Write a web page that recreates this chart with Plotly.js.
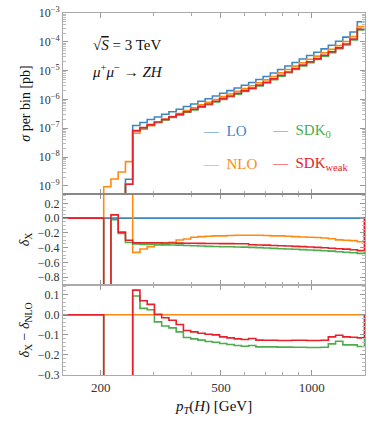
<html lang="en">
  <head>
    <meta charset="UTF-8" />
    <script src="https://cdn.plot.ly/plotly-3.0.1.min.js"></script>
    <title>ZH pT(H)</title>
    <style>
      body { margin: 0; background: #fff; }
    </style>
  </head>
  <body>
    <div id="chart" style="width: 381px; height: 428px"></div>
    <script>
      // bin edges in pT(H) [GeV]
      const binEdges = [204.6, 216.2, 228.5, 241.5, 255.2, 269.7, 285.0, 301.2, 318.3, 336.4,
        355.5, 375.7, 397.0, 419.6, 443.4, 468.6, 495.2, 523.3, 553.1, 584.5, 617.7, 652.8,
        689.8, 729.0, 770.4, 814.2, 860.4, 909.3, 960.9, 1015.5, 1073.2, 1134.1, 1198.5,
        1266.6, 1338.5, 1414.6, 1495.0];

      // sigma per bin [pb]
      const loTop = [1e-11, 1e-11, 1e-11, 1.7e-9, 1.25e-7, 1.59e-7, 2.02e-7, 2.47e-7, 3.06e-7,
        3.77e-7, 4.6e-7, 5.71e-7, 6.97e-7, 8.64e-7, 1.06e-6, 1.32e-6, 1.64e-6, 2.02e-6, 2.5e-6,
        3.11e-6, 3.88e-6, 4.93e-6, 6.27e-6, 8.29e-6, 1.1e-5, 1.45e-5, 1.92e-5, 2.54e-5, 3.35e-5,
        4.33e-5, 5.7e-5, 7.6e-5, 1.05e-4, 1.45e-4, 2.2e-4, 4.95e-4];
      const nloTop = [9.4e-10, 1.75e-9, 3.05e-9, 6.95e-9, 6.7e-8, 9.25e-8, 1.24e-7, 1.58e-7,
        2.03e-7, 2.53e-7, 3.24e-7, 4.1e-7, 5.16e-7, 6.47e-7, 8.0e-7, 1.0e-6, 1.25e-6, 1.55e-6,
        1.92e-6, 2.39e-6, 2.98e-6, 3.79e-6, 4.8e-6, 6.3e-6, 8.36e-6, 1.09e-5, 1.44e-5, 1.89e-5,
        2.48e-5, 3.2e-5, 4.16e-5, 5.47e-5, 7.4e-5, 1.02e-4, 1.53e-4, 3.37e-4];
      const sdk0Top = [1e-11, 1e-11, 1e-11, 1.14e-9, 8.1e-8, 1.03e-7, 1.3e-7, 1.58e-7, 1.95e-7,
        2.4e-7, 2.92e-7, 3.6e-7, 4.36e-7, 5.37e-7, 6.55e-7, 8.12e-7, 1.005e-6, 1.236e-6,
        1.525e-6, 1.89e-6, 2.34e-6, 2.96e-6, 3.73e-6, 4.89e-6, 6.45e-6, 8.44e-6, 1.11e-5,
        1.455e-5, 1.9e-5, 2.44e-5, 3.18e-5, 4.2e-5, 5.72e-5, 7.8e-5, 1.17e-4, 2.59e-4];
      const sdkWeakTop = [1e-11, 1e-11, 1e-11, 1.14e-9, 8.31e-8, 1.057e-7, 1.343e-7, 1.643e-7,
        2.03e-7, 2.5e-7, 3.05e-7, 3.77e-7, 4.6e-7, 5.69e-7, 6.96e-7, 8.66e-7, 1.074e-6,
        1.323e-6, 1.635e-6, 2.03e-6, 2.48e-6, 3.14e-6, 3.98e-6, 5.22e-6, 6.89e-6, 9.02e-6,
        1.187e-5, 1.56e-5, 2.04e-5, 2.62e-5, 3.41e-5, 4.51e-5, 6.15e-5, 8.41e-5, 1.26e-4, 2.77e-4];

      // delta_X (relative to LO); off-scale bins kept outside the axis range
      const deltaLO = [0, 0, 0, 0, 0, 0, 0, 0, 0, 0, 0, 0, 0, 0, 0, 0, 0, 0, 0, 0, 0, 0, 0, 0,
        0, 0, 0, 0, 0, 0, 0, 0, 0, 0, 0, 0];
      const deltaNLO = [2, 2, 2, 2, -0.464, -0.418, -0.387, -0.36, -0.337, -0.328, -0.296,
        -0.282, -0.26, -0.251, -0.245, -0.24, -0.24, -0.235, -0.232, -0.232, -0.232, -0.232,
        -0.235, -0.24, -0.24, -0.245, -0.25, -0.255, -0.26, -0.262, -0.27, -0.28, -0.295, -0.3,
        -0.305, -0.32];
      const deltaSDK0 = [-1, -0.02, -0.206, -0.33, -0.35, -0.355, -0.358, -0.36, -0.362, -0.364,
        -0.366, -0.37, -0.375, -0.378, -0.382, -0.385, -0.387, -0.388, -0.39, -0.392, -0.396,
        -0.4, -0.405, -0.41, -0.414, -0.418, -0.422, -0.427, -0.432, -0.437, -0.442, -0.447,
        -0.455, -0.462, -0.468, -0.477];
      const deltaSDKweak = [-1, 0.043, -0.19, -0.3, -0.335, -0.335, -0.335, -0.335, -0.336,
        -0.336, -0.338, -0.34, -0.34, -0.342, -0.343, -0.344, -0.345, -0.345, -0.346, -0.346,
        -0.36, -0.363, -0.366, -0.37, -0.374, -0.378, -0.382, -0.386, -0.39, -0.396, -0.402,
        -0.407, -0.414, -0.42, -0.428, -0.44];

      // delta_X - delta_NLO
      const diffNLO = [0, 0, 0, 0, 0, 0, 0, 0, 0, 0, 0, 0, 0, 0, 0, 0, 0, 0, 0, 0, 0, 0, 0, 0,
        0, 0, 0, 0, 0, 0, 0, 0, 0, 0, 0, 0];
      const diffSDK0 = [-1, -1, -1, -1, 0.094, 0.032, 0.025, -0.035, -0.056, -0.065, -0.085,
        -0.113, -0.12, -0.126, -0.133, -0.137, -0.143, -0.148, -0.153, -0.157, -0.153, -0.16,
        -0.16, -0.16, -0.161, -0.161, -0.162, -0.162, -0.163, -0.163, -0.162, -0.145, -0.132,
        -0.15, -0.15, -0.158];
      const diffSDKweak = [-1, -1, -1, -1, 0.123, 0.07, 0.052, 0.002, -0.015, -0.027, -0.048,
        -0.078, -0.085, -0.092, -0.097, -0.1, -0.11, -0.115, -0.12, -0.123, -0.118, -0.126,
        -0.127, -0.127, -0.128, -0.128, -0.127, -0.127, -0.128, -0.128, -0.127, -0.11, -0.102,
        -0.11, -0.112, -0.115];

      const colors = { lo: "#3d86c6", nlo: "#ff8a12", sdk0: "#4cad4a", weak: "#e8202a" };
      const serif = "'Liberation Serif', 'DejaVu Serif', serif";

      // histogram outline: value before the first bin, the bins, value after the last
      function steps(vals, before, after) {
        const x = [100], y = [before];
        vals.forEach((v, i) => { x.push(binEdges[i]); y.push(v); });
        x.push(binEdges[vals.length]);
        y.push(after === undefined ? vals[vals.length - 1] : after);
        if (after !== undefined) { x.push(2000); y.push(after); }
        return { x, y };
      }

      function trace(vals, before, after, color, xa, ya) {
        const s = steps(vals, before, after);
        return {
          x: s.x, y: s.y, xaxis: xa, yaxis: ya,
          type: "scatter", mode: "lines",
          line: { shape: "hv", color: color, width: 1.6 },
          hoverinfo: "skip", showlegend: false,
        };
      }

      const data = [
        trace(loTop, 1e-12, undefined, colors.lo, "x", "y"),
        trace(nloTop, 1e-12, undefined, colors.nlo, "x", "y"),
        trace(sdk0Top, 1e-12, undefined, colors.sdk0, "x", "y"),
        trace(sdkWeakTop, 1e-12, undefined, colors.weak, "x", "y"),
        trace(deltaLO, 0, 0, colors.lo, "x2", "y2"),
        trace(deltaNLO, 0, 0, colors.nlo, "x2", "y2"),
        trace(deltaSDK0, 0, 0, colors.sdk0, "x2", "y2"),
        trace(deltaSDKweak, 0, 0, colors.weak, "x2", "y2"),
        trace(diffNLO, 0, 0, colors.nlo, "x3", "y3"),
        trace(diffSDK0, 0, 0, colors.sdk0, "x3", "y3"),
        trace(diffSDKweak, 0, 0, colors.weak, "x3", "y3"),
      ];

      const xBase = {
        type: "log",
        range: [Math.log10(150), Math.log10(1500)],
        tickvals: [200, 500, 1000],
        ticktext: ["200", "500", "1000"],
        ticks: "inside", ticklen: 5, tickcolor: "#999",
        minor: { tickvals: [300, 400, 600, 700, 800, 900], ticks: "inside", ticklen: 3, tickcolor: "#aaa" },
        showline: true, linecolor: "#aaa", mirror: "ticks",
        showgrid: false, zeroline: false,
        tickfont: { family: serif, size: 13, color: "#333" },
      };
      const yBase = {
        ticks: "inside", ticklen: 5, tickcolor: "#999",
        showline: true, linecolor: "#aaa", mirror: "ticks",
        showgrid: false, zeroline: false,
        tickfont: { family: serif, size: 12, color: "#333" },
        title: { font: { family: serif, size: 14, color: "#111" }, standoff: 4 },
      };

      const decades = [1e-9, 1e-8, 1e-7, 1e-6, 1e-5, 1e-4, 1e-3];
      const minorLog = [];
      decades.slice(0, -1).forEach((d) => { for (let m = 2; m < 10; m++) minorLog.push(m * d); });

      const layout = {
        width: 381, height: 428,
        margin: { l: 63, r: 16, t: 13, b: 53 },
        paper_bgcolor: "#fff", plot_bgcolor: "#fff",
        showlegend: false,
        xaxis: Object.assign({}, xBase, { anchor: "y", showticklabels: false }),
        xaxis2: Object.assign({}, xBase, { anchor: "y2", showticklabels: false }),
        xaxis3: Object.assign({}, xBase, {
          anchor: "y3",
          title: { text: "<i>p</i><sub><i>T</i></sub>(<i>H</i>) [GeV]", font: { family: serif, size: 15, color: "#111" }, standoff: 6 },
        }),
        yaxis: Object.assign({}, yBase, {
          domain: [0.5, 1], type: "log", range: [-9.28, -3],
          tickvals: decades,
          ticktext: decades.map((d) => "10<sup>−" + Math.round(-Math.log10(d)) + "</sup>"),
          minor: { tickvals: minorLog, ticks: "inside", ticklen: 3, tickcolor: "#bbb" },
          title: Object.assign({}, yBase.title, { text: "<i>σ</i> per bin [pb]" }),
        }),
        yaxis2: Object.assign({}, yBase, {
          domain: [0.2486, 0.5], range: [-0.905, 0.326],
          tickvals: [-0.8, -0.6, -0.4, -0.2, 0, 0.2],
          ticktext: ["−0.8", "−0.6", "−0.4", "−0.2", "0.0", "0.2"],
          minor: { dtick: 0.05, ticks: "inside", ticklen: 3, tickcolor: "#bbb" },
          title: Object.assign({}, yBase.title, { text: "<i>δ</i><sub>X</sub>" }),
        }),
        yaxis3: Object.assign({}, yBase, {
          domain: [0, 0.2486], range: [-0.3, 0.1485],
          tickvals: [-0.3, -0.2, -0.1, 0, 0.1],
          ticktext: ["−0.3", "−0.2", "−0.1", "0.0", "0.1"],
          minor: { dtick: 0.02, ticks: "inside", ticklen: 3, tickcolor: "#bbb" },
          title: Object.assign({}, yBase.title, { text: "<i>δ</i><sub>X</sub> − <i>δ</i><sub>NLO</sub>" }),
        }),
        shapes: [
          { type: "line", xref: "paper", yref: "paper", x0: 0, x1: 1, y0: 0.5, y1: 0.5, line: { color: "#666", width: 1.2 }, layer: "above" },
        ],
        annotations: [
          { text: "√<span style='text-decoration:overline'><i>S</i></span> = 3 TeV", x: 0.212, y: 0.912 },
          { text: "<i>μ</i><sup>+</sup><i>μ</i><sup>−</sup> → <i>ZH</i>", x: 0.215, y: 0.84 },
        ].map((a) => Object.assign({
          xref: "paper", yref: "paper", showarrow: false,
          xanchor: "center", yanchor: "middle",
          font: { family: serif, size: 15, color: "#111" },
        }, a)).concat([
          { text: "—  LO", x: 0.457, y: 0.674, color: colors.lo },
          { text: "—  SDK<sub>0</sub>", x: 0.685, y: 0.674, color: colors.sdk0 },
          { text: "—  NLO", x: 0.457, y: 0.583, color: colors.nlo },
          { text: "—  SDK<sub>weak</sub>", x: 0.685, y: 0.583, color: colors.weak },
        ].map((a) => ({
          text: a.text, x: a.x, y: a.y,
          xref: "paper", yref: "paper", showarrow: false,
          xanchor: "left", yanchor: "middle",
          font: { family: serif, size: 15, color: a.color },
        }))),
      };

      Plotly.newPlot("chart", data, layout, { staticPlot: true });
    </script>
  </body>
</html>
